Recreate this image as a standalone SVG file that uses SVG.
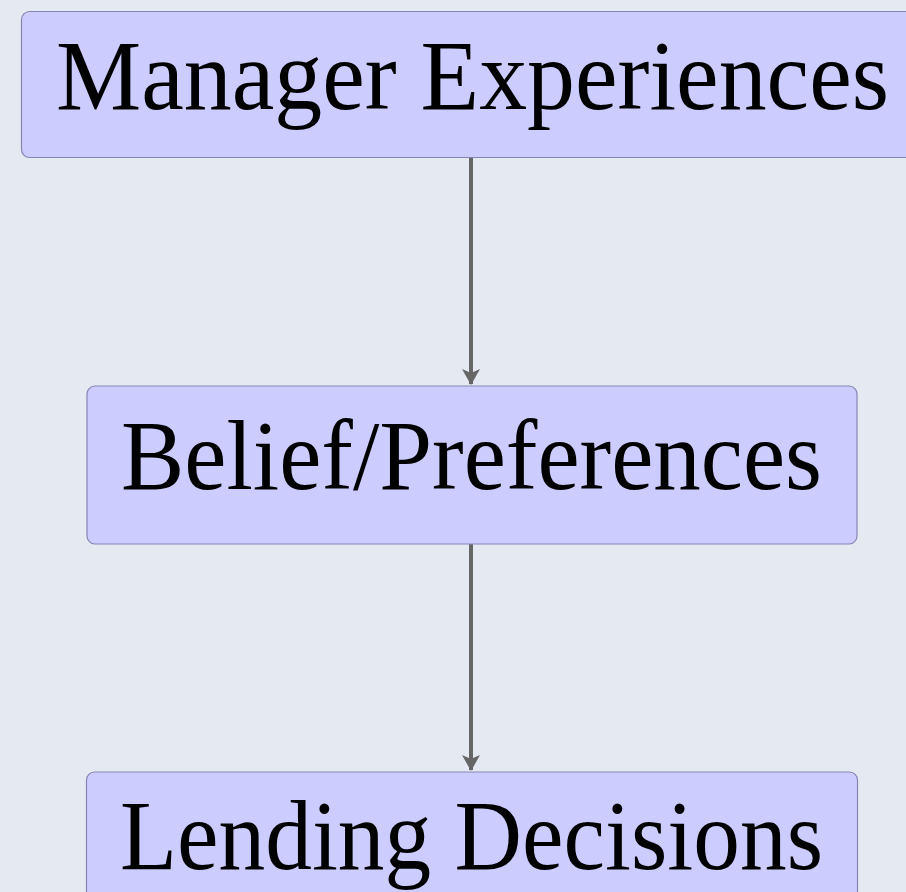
<svg xmlns="http://www.w3.org/2000/svg" width="906" height="892" viewBox="0 0 906 892">
  <style>
    .box { fill: #ccccff; stroke: #8585b5; stroke-width: 1.2; }
    .label { font-family: "Liberation Serif", "DejaVu Serif", serif; font-size: 99px; fill: #000; }
    .edge { stroke: #666666; stroke-width: 4; fill: none; }
  </style>
  <defs>
    <marker id="arrow" viewBox="0 0 16 18" refX="15" refY="9" markerWidth="16" markerHeight="18" markerUnits="userSpaceOnUse" orient="auto">
      <path d="M0,0 L16,9 L0,18 L4,9 Z" fill="#666666"/>
    </marker>
  </defs>
  <rect width="906" height="892" fill="#e5e9f2"/>

  <g id="connectors">
    <line class="edge" x1="471" y1="157" x2="471" y2="384" marker-end="url(#arrow)"/>
    <line class="edge" x1="471" y1="544" x2="471" y2="770" marker-end="url(#arrow)"/>
  </g>

  <g id="manager-experiences">
    <rect class="box" x="21.5" y="11.5" width="900" height="146" rx="8"/>
    <text class="label" x="56" y="109" textLength="833" lengthAdjust="spacingAndGlyphs">Manager Experiences</text>
  </g>

  <g id="belief-preferences">
    <rect class="box" x="87" y="386" width="770" height="158" rx="8"/>
    <text class="label" x="121" y="489" textLength="701" lengthAdjust="spacingAndGlyphs">Belief/Preferences</text>
  </g>

  <g id="lending-decisions">
    <rect class="box" x="86.5" y="772" width="771" height="160" rx="8"/>
    <text class="label" x="120" y="869" textLength="703" lengthAdjust="spacingAndGlyphs">Lending Decisions</text>
  </g>
</svg>
